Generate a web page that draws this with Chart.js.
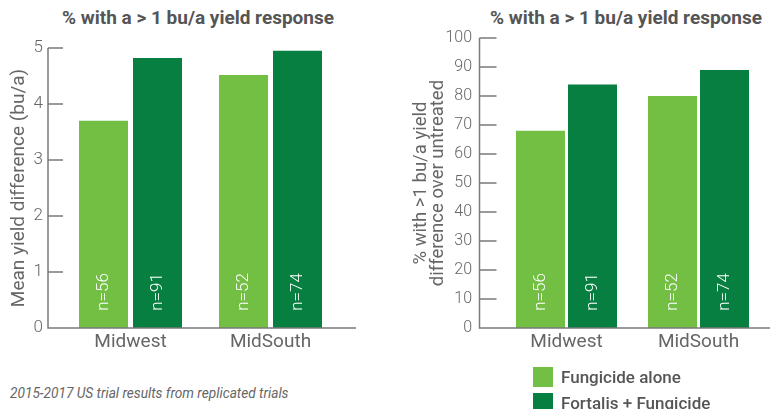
<!DOCTYPE html>
<html>
<head>
<meta charset="utf-8">
<script src="https://cdn.jsdelivr.net/npm/chart.js@4/dist/chart.umd.min.js"></script>
<style>
  body { margin: 0; background: #fff; font-family: Roboto, sans-serif; }
  #wrap { position: relative; width: 775px; height: 409px; overflow: hidden; }
  canvas { position: absolute; top: 0; }
  .title { position: absolute; top: 7px; width: 400px; text-align: center; white-space: nowrap;
           font-size: 19px; line-height: 22px; font-weight: bold; color: #555; }
  #note { position: absolute; left: 10px; top: 385px; font-size: 13.7px; font-style: italic; color: #666; white-space: nowrap; }
  .leg { position: absolute; left: 533px; height: 20px; white-space: nowrap; }
  .leg span { display: inline-block; width: 20px; height: 20px; vertical-align: middle; }
  .leg b { display: inline-block; margin-left: 8px; font-size: 17px; font-weight: 500; color: #555; vertical-align: middle; }
</style>
</head>
<body>
<div id="wrap">
  <div class="title" style="left:-2px">% with a &gt; 1 bu/a yield response</div>
  <div class="title" style="left:426px">% with a &gt; 1 bu/a yield response</div>
  <canvas id="left" width="390" height="370" style="left:0"></canvas>
  <canvas id="right" width="385" height="370" style="left:390px"></canvas>
  <div id="note">2015-2017 US trial results from replicated trials</div>
  <div id="legend"></div>
</div>
<script>
const regions = ["Midwest", "MidSouth"];
const seriesNames = ["Fungicide alone", "Fortalis + Fungicide"];
const seriesColors = ["#72bf44", "#077f40"];

const meanYieldAlone = [3.7, 4.52];
const meanYieldFortalis = [4.82, 4.95];
const pctAlone = [68, 80];
const pctFortalis = [84, 89];

const samplesAlone = ["n=56", "n=52"];
const samplesFortalis = ["n=91", "n=74"];

const yieldTicks = [0, 1, 2, 3, 4, 5];
const pctTicks = [0, 10, 20, 30, 40, 50, 60, 70, 80, 90, 100];

const axisLines = {
  id: "axisLines",
  afterDatasetsDraw(chart, args, opts) {
    const { ctx, chartArea, scales: { y } } = chart;
    const ax = chartArea.left - opts.inset;
    const base = y.getPixelForValue(y.min);
    const top = y.getPixelForValue(y.max);
    ctx.save();
    ctx.strokeStyle = "#7a7a7a";
    ctx.lineWidth = 1.5;
    ctx.beginPath();
    ctx.moveTo(ax, top);
    ctx.lineTo(ax, base);
    ctx.lineTo(chartArea.right + opts.overhang, base);
    y.ticks.forEach((t) => {
      const py = y.getPixelForValue(t.value);
      ctx.moveTo(ax, py);
      ctx.lineTo(ax + opts.tick, py);
    });
    ctx.stroke();
    ctx.restore();
  },
};

const sampleLabels = {
  id: "sampleLabels",
  afterDatasetsDraw(chart) {
    const { ctx, chartArea } = chart;
    ctx.save();
    ctx.fillStyle = "#fff";
    ctx.font = "300 17px Roboto";
    ctx.textAlign = "center";
    ctx.textBaseline = "middle";
    chart.data.datasets.forEach((ds, i) => {
      chart.getDatasetMeta(i).data.forEach((bar, j) => {
        ctx.save();
        ctx.translate(bar.x, chartArea.bottom - 36);
        ctx.rotate(-Math.PI / 2);
        ctx.fillText(ds.samples[j], 0, 0);
        ctx.restore();
      });
    });
    ctx.restore();
  },
};

function makeChart(id, g) {
  return new Chart(document.getElementById(id), {
    type: "bar",
    data: {
      labels: regions,
      datasets: [
        { label: seriesNames[0], data: g.alone, samples: samplesAlone, backgroundColor: seriesColors[0] },
        { label: seriesNames[1], data: g.fortalis, samples: samplesFortalis, backgroundColor: seriesColors[1] },
      ],
    },
    options: {
      responsive: false,
      animation: false,
      devicePixelRatio: 1,
      categoryPercentage: g.catPct,
      barPercentage: g.barPct,
      layout: { padding: { left: 0, right: g.padRight, top: g.padTop, bottom: 2 } },
      plugins: {
        legend: { display: false },
        tooltip: { enabled: false },
        axisLines: { inset: g.inset, overhang: g.overhang, tick: g.tick },
      },
      scales: {
        x: {
          offset: true,
          grid: { display: false, drawTicks: false },
          border: { display: false },
          ticks: { color: "#666", padding: 3, font: { family: "Roboto", size: 19 } },
          afterFit: (s) => { s.height = 40; },
        },
        y: {
          min: 0,
          max: g.max,
          afterBuildTicks: (s) => { s.ticks = g.ticks.map((v) => ({ value: v })); },
          grid: { display: false, drawTicks: false },
          border: { display: false },
          ticks: { color: "#666", padding: g.tickPad, autoSkip: false, font: { family: "Roboto", size: g.tickSize, weight: "300" } },
          title: {
            display: true,
            text: g.title,
            color: "#666",
            padding: { top: g.titlePad, bottom: 0 },
            font: { family: "Roboto", size: g.titleSize, lineHeight: g.titleLH },
          },
          afterFit: (s) => { s.width = g.yWidth; },
        },
      },
    },
    plugins: [axisLines, sampleLabels],
  });
}

makeChart("left", {
  alone: meanYieldAlone, fortalis: meanYieldFortalis, max: 5, ticks: yieldTicks,
  catPct: 108 / 140, barPct: 49 / 54,
  yWidth: 60.5, padRight: 49.5, padTop: 48,
  inset: 12.5, overhang: 15.5, tick: 15,
  tickPad: 17.5, tickSize: 17,
  title: "Mean yield difference (bu/a)", titleSize: 19, titleLH: 1.2, titlePad: 7.5,
});

makeChart("right", {
  alone: pctAlone, fortalis: pctFortalis, max: 100, ticks: pctTicks,
  catPct: 104 / 132, barPct: 49 / 52,
  yWidth: 110.5, padRight: 10.5, padTop: 36,
  inset: 21, overhang: 5.5, tick: 17,
  tickPad: 28.5, tickSize: 16,
  title: ["% with >1 bu/a yield", "difference over untreated"], titleSize: 18.5, titleLH: "17px", titlePad: 23,
});

const legend = document.getElementById("legend");
seriesNames.forEach((name, i) => {
  const item = document.createElement("div");
  item.className = "leg";
  item.style.top = (366 + i * 26) + "px";
  item.innerHTML = '<span style="background:' + seriesColors[i] + '"></span><b>' + name + "</b>";
  legend.appendChild(item);
});
</script>
</body>
</html>
